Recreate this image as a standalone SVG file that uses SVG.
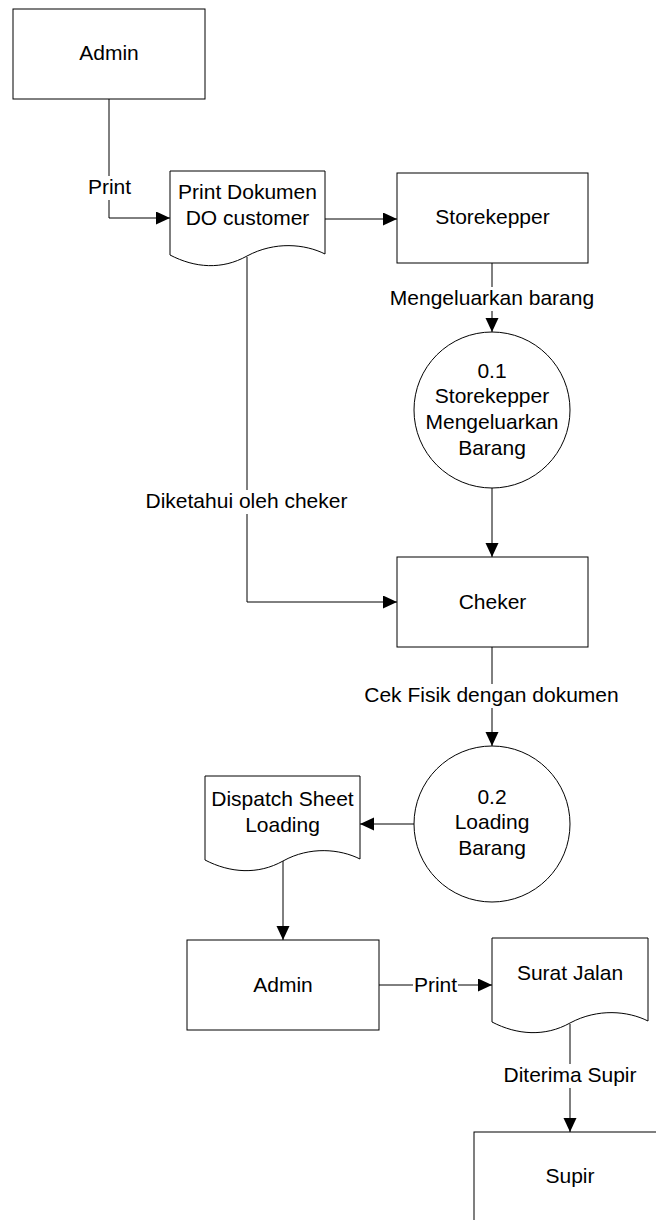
<svg xmlns="http://www.w3.org/2000/svg" width="656" height="1220" viewBox="0 0 656 1220">
  <style>
    .shape { fill: #ffffff; stroke: #000000; stroke-width: 1; }
    .flow { fill: none; stroke: #000000; stroke-width: 1; }
    text { font-family: "Liberation Sans", Arial, sans-serif; font-size: 21px; fill: #000000; text-anchor: middle; }
    .bg { fill: #ffffff; stroke: none; }
  </style>
  <defs>
    <marker id="arrow" markerUnits="userSpaceOnUse" markerWidth="15" markerHeight="14" refX="14" refY="6.5" orient="auto">
      <path d="M0,0 L14,6.5 L0,13 Z" fill="#000000"/>
    </marker>
  </defs>

  <rect width="656" height="1220" fill="#ffffff"/>

  <!-- connectors -->
  <g id="connectors">
    <path class="flow" d="M109,99 V218 H170" marker-end="url(#arrow)"/>
    <path class="flow" d="M325,219 H397" marker-end="url(#arrow)"/>
    <path class="flow" d="M492,263 V332" marker-end="url(#arrow)"/>
    <path class="flow" d="M247,257 V602 H397" marker-end="url(#arrow)"/>
    <path class="flow" d="M492,488 V557" marker-end="url(#arrow)"/>
    <path class="flow" d="M492,647 V746" marker-end="url(#arrow)"/>
    <path class="flow" d="M414,824 H360" marker-end="url(#arrow)"/>
    <path class="flow" d="M283,861 V940" marker-end="url(#arrow)"/>
    <path class="flow" d="M379,985 H492" marker-end="url(#arrow)"/>
    <path class="flow" d="M570,1024 V1132" marker-end="url(#arrow)"/>

    <!-- flow labels -->
    <g id="label-print-1">
      <rect class="bg" x="86" y="176" width="46" height="24"/>
      <text x="109.5" y="194">Print</text>
    </g>
    <g id="label-mengeluarkan">
      <rect class="bg" x="387" y="287" width="210" height="24"/>
      <text x="492" y="305">Mengeluarkan barang</text>
    </g>
    <g id="label-diketahui">
      <rect class="bg" x="141" y="490" width="212" height="24"/>
      <text x="246.5" y="508">Diketahui oleh cheker</text>
    </g>
    <g id="label-cekfisik">
      <rect class="bg" x="361" y="684" width="262" height="24"/>
      <text x="491.5" y="702">Cek Fisik dengan dokumen</text>
    </g>
    <g id="label-print-2">
      <rect class="bg" x="413" y="974" width="45" height="24"/>
      <text x="435.5" y="992">Print</text>
    </g>
    <g id="label-diterima">
      <rect class="bg" x="501" y="1064" width="138" height="24"/>
      <text x="570" y="1082">Diterima Supir</text>
    </g>
  </g>

  <!-- nodes -->
  <g id="admin-1">
    <rect class="shape" x="13" y="9" width="192" height="90"/>
    <text x="109" y="60">Admin</text>
  </g>

  <g id="doc-print-dokumen">
    <path class="shape" d="M170,171 H325 V254 C305,244 275,241 247,256 C222,270 195,268 170,255 Z"/>
    <text x="247.5" y="199">Print Dokumen</text>
    <text x="247.5" y="225">DO customer</text>
  </g>

  <g id="storekepper">
    <rect class="shape" x="397" y="173" width="191" height="90"/>
    <text x="492.5" y="224">Storekepper</text>
  </g>

  <g id="process-0-1">
    <circle class="shape" cx="492" cy="410" r="78"/>
    <text x="492" y="378">0.1</text>
    <text x="492" y="403">Storekepper</text>
    <text x="492" y="429">Mengeluarkan</text>
    <text x="492" y="455">Barang</text>
  </g>

  <g id="cheker">
    <rect class="shape" x="397" y="557" width="191" height="90"/>
    <text x="492.5" y="609">Cheker</text>
  </g>

  <g id="process-0-2">
    <circle class="shape" cx="492" cy="824" r="78"/>
    <text x="492" y="804">0.2</text>
    <text x="492" y="829">Loading</text>
    <text x="492" y="855">Barang</text>
  </g>

  <g id="doc-dispatch-sheet">
    <path class="shape" d="M205,776 H360 V859 C340,849 310,846 283,861 C258,875 230,873 205,860 Z"/>
    <text x="282.5" y="806">Dispatch Sheet</text>
    <text x="282.5" y="832">Loading</text>
  </g>

  <g id="admin-2">
    <rect class="shape" x="187" y="940" width="192" height="90"/>
    <text x="283" y="992">Admin</text>
  </g>

  <g id="doc-surat-jalan">
    <path class="shape" d="M492,938 H648 V1021 C628,1011 598,1008 570,1023 C545,1037 517,1035 492,1022 Z"/>
    <text x="570" y="980">Surat Jalan</text>
  </g>

  <g id="supir">
    <rect class="shape" x="474" y="1132" width="192" height="90"/>
    <text x="570" y="1183">Supir</text>
  </g>
</svg>
